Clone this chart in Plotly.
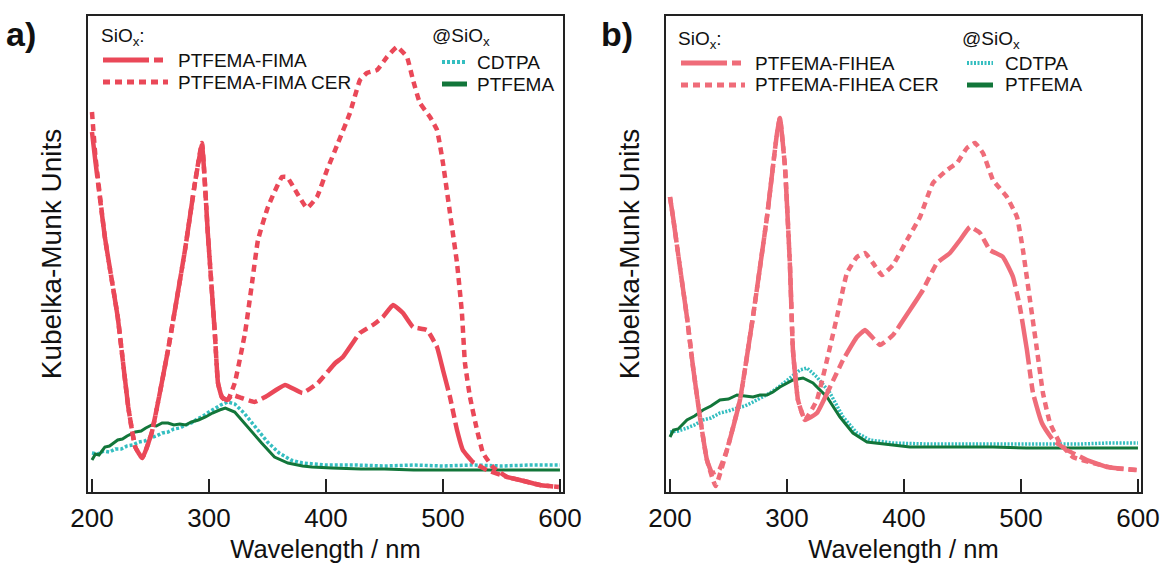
import plotly.graph_objects as go

# ---------------- data (Kubelka-Munk units, arbitrary scale) ----------------
# Panel a) SiOx: PTFEMA-FIMA and its CER counterpart
a_cer_nm = [200, 203, 211, 222, 231, 237, 243, 251, 265, 279.5, 288, 294, 299, 305, 307.7, 311,
            315.4, 322, 330.8, 336.8, 341.9, 350.4, 362.4, 366.7, 375.2, 383.8, 392.3, 400.9,
            410.3, 420.5, 429.1, 435, 443.6, 452.1, 460.7, 469.2, 474.4, 480.3, 488.9, 494.9,
            500, 506, 512, 516.2, 518.8, 523.1, 529.1, 534.2, 542.7, 554.7, 565.8, 582.9, 599]
a_cer_km = [3.80, 3.35, 2.55, 1.75, 0.85, 0.45, 0.34, 0.59, 1.42, 2.42, 3.09, 3.49, 2.59, 1.59, 1.09, 0.95,
            0.90, 1.09, 1.59, 2.09, 2.52, 2.85, 3.15, 3.15, 2.99, 2.84, 2.95, 3.22,
            3.49, 3.79, 4.12, 4.19, 4.22, 4.35, 4.45, 4.35, 4.12, 3.89, 3.75, 3.62,
            3.29, 2.79, 2.29, 1.79, 1.29, 0.95, 0.62, 0.39, 0.25, 0.15, 0.12, 0.07, 0.05]

a_fima_nm = [200, 203, 211, 222, 231, 237, 243, 251, 265, 279.5, 288, 294, 299, 305, 307.7, 311,
             315.4, 320, 328, 339, 348, 365, 380, 393, 408, 414.5, 429, 440, 448.7, 457.3,
             465.8, 474.4, 486.3, 494.9, 500, 506, 512, 517, 525.6, 537.6, 554.7, 565.8, 582.9, 599]
a_fima_km = [3.60, 3.30, 2.55, 1.75, 0.85, 0.45, 0.34, 0.59, 1.42, 2.42, 3.09, 3.47, 2.59, 1.59, 1.09, 0.95,
             0.92, 0.97, 0.94, 0.90, 0.95, 1.07, 0.99, 1.09, 1.29, 1.35, 1.59, 1.67, 1.75, 1.87,
             1.79, 1.65, 1.62, 1.45, 1.22, 0.95, 0.62, 0.42, 0.30, 0.22, 0.15, 0.12, 0.07, 0.05]

# Panel a) @SiOx references
a_cdtpa_nm = [200, 205, 210, 215, 220, 225, 230, 235, 240, 245, 250, 255, 260, 265, 270, 275, 280,
              285, 290, 295, 300, 305, 310, 316, 322, 330, 340, 350, 360, 370, 380, 400, 425,
              450, 475, 500, 525, 550, 575, 600]
a_cdtpa_km = [0.39, 0.38, 0.41, 0.40, 0.43, 0.43, 0.46, 0.47, 0.50, 0.51, 0.54, 0.56, 0.59, 0.60, 0.63,
              0.64, 0.67, 0.69, 0.73, 0.76, 0.80, 0.84, 0.87, 0.90, 0.88, 0.79, 0.64, 0.50, 0.39,
              0.32, 0.29, 0.27, 0.27, 0.26, 0.27, 0.26, 0.27, 0.26, 0.27, 0.27]

a_ptfema_nm = [200, 203, 206, 211, 215, 222, 226, 230, 237, 242, 246, 251, 255, 260, 265, 270, 275,
               280, 285, 291, 297, 303, 309, 314, 322, 333, 345, 356, 367.5, 380, 388, 405, 430,
               450, 475, 500, 525, 550, 575, 600]
a_ptfema_km = [0.32, 0.38, 0.37, 0.45, 0.46, 0.52, 0.53, 0.56, 0.60, 0.61, 0.64, 0.67, 0.66, 0.69, 0.69,
               0.67, 0.68, 0.67, 0.70, 0.72, 0.75, 0.79, 0.82, 0.84, 0.80, 0.65, 0.49, 0.35, 0.29,
               0.26, 0.25, 0.24, 0.23, 0.23, 0.22, 0.22, 0.22, 0.22, 0.22, 0.22]

# Panel b) SiOx: PTFEMA-FIHEA and its CER counterpart
b_cer_nm = [200, 202.6, 208.5, 214.5, 219.7, 225.6, 231.6, 239, 248.7, 259.8, 270.9, 282.9, 291.5,
            294, 298.3, 302.6, 305.1, 309.4, 315.4, 325.6, 334.2, 342.7, 351.3, 359.8, 366.7,
            373.5, 381.2, 390.6, 402.6, 413.7, 424.8, 436.8, 445.3, 453.8, 460.7, 467.5, 476.1,
            488, 496.6, 501.7, 507.7, 513.7, 518.8, 524.8, 533.3, 544.4, 561.5, 578.6, 599]
b_cer_km = [2.95, 2.75, 2.25, 1.75, 1.25, 0.75, 0.32, 0.06, 0.42, 0.92, 1.75, 2.75, 3.59,
            3.74, 3.25, 2.25, 1.42, 0.92, 0.72, 0.92, 1.32, 1.75, 2.19, 2.35, 2.39,
            2.29, 2.17, 2.27, 2.52, 2.75, 3.09, 3.22, 3.29, 3.44, 3.49, 3.39, 3.12,
            2.95, 2.75, 2.42, 1.92, 1.42, 0.99, 0.69, 0.49, 0.35, 0.29, 0.24, 0.22]

b_fihea_nm = [200, 202.6, 208.5, 214.5, 219.7, 225.6, 231.6, 236, 242, 248.7, 259.8, 270.9, 282.9,
              291.5, 294, 298.3, 302.6, 305.1, 309.4, 315.4, 325.6, 336.8, 347.9, 359.8, 366.7,
              373.5, 379.5, 390.6, 405.1, 416.2, 428.2, 439.3, 447.9, 456.4, 465, 473.5, 484.6,
              493.2, 499.1, 505.1, 510.3, 517.9, 527.4, 539.3, 556.4, 573.5, 599]
b_fihea_km = [2.95, 2.75, 2.25, 1.75, 1.25, 0.75, 0.32, 0.19, 0.22, 0.42, 0.92, 1.75, 2.75,
              3.59, 3.74, 3.25, 2.25, 1.42, 0.92, 0.72, 0.79, 1.05, 1.32, 1.55, 1.62,
              1.54, 1.47, 1.57, 1.82, 2.02, 2.29, 2.39, 2.52, 2.65, 2.59, 2.42, 2.35,
              2.15, 1.85, 1.42, 0.99, 0.69, 0.52, 0.42, 0.32, 0.25, 0.22]

# Panel b) @SiOx references
b_cdtpa_nm = [200, 207, 214.5, 221, 228.2, 235, 242.7, 250, 257.3, 264, 271, 278, 285.5, 293, 300,
              306, 311.1, 317.1, 325.6, 336.8, 347.9, 359.8, 370.9, 390.6, 420, 450, 475, 500,
              525, 550, 575, 600]
b_cdtpa_km = [0.60, 0.61, 0.64, 0.67, 0.72, 0.74, 0.79, 0.81, 0.84, 0.86, 0.90, 0.94, 0.99, 1.05, 1.12,
              1.17, 1.22, 1.24, 1.15, 0.99, 0.75, 0.59, 0.52, 0.49, 0.48, 0.48, 0.48, 0.48,
              0.48, 0.48, 0.49, 0.49]

b_ptfema_nm = [200, 203, 207, 214.5, 221, 228.2, 235, 242.7, 250, 257.3, 264, 271, 277, 282.9, 288,
               294, 305.1, 313.7, 322.2, 334.2, 345.3, 356.4, 368.4, 390.6, 405.1, 440, 476, 505,
               533, 565, 600]
b_ptfema_km = [0.55, 0.62, 0.63, 0.72, 0.76, 0.82, 0.86, 0.92, 0.93, 0.97, 0.96, 0.95, 0.97, 0.97, 1.00,
               1.05, 1.12, 1.14, 1.09, 0.95, 0.75, 0.59, 0.50, 0.47, 0.45, 0.45, 0.45, 0.44,
               0.44, 0.44, 0.44]

# ---------------- styling ----------------
W, H = 1160, 567
FONT = "Liberation Sans, Arial, sans-serif"
RED_A = "rgb(234,72,88)"
RED_B = "rgb(239,108,121)"
CYAN = "rgb(52,190,192)"
GREEN = "rgb(18,118,58)"

DASH_LONG_SHORT = "46px,5px,9px,5px,9px,5px"
DASH_SQUARE = "7px,5px"
DASH_CYAN_A = "3px,2px"
DASH_CYAN_B = "2px,1.5px"


def px_x(p):
    return p / W


def px_y(p):
    return 1 - p / H


fig = go.Figure()

panels = [
    dict(ax="x", ay="y", red=RED_A, cyan_dash=DASH_CYAN_A,
         series=[(a_cdtpa_nm, a_cdtpa_km, "CDTPA"), (a_ptfema_nm, a_ptfema_km, "PTFEMA"),
                 (a_cer_nm, a_cer_km, "PTFEMA-FIMA CER"), (a_fima_nm, a_fima_km, "PTFEMA-FIMA")]),
    dict(ax="x2", ay="y2", red=RED_B, cyan_dash=DASH_CYAN_B,
         series=[(b_cdtpa_nm, b_cdtpa_km, "CDTPA"), (b_ptfema_nm, b_ptfema_km, "PTFEMA"),
                 (b_cer_nm, b_cer_km, "PTFEMA-FIHEA CER"), (b_fihea_nm, b_fihea_km, "PTFEMA-FIHEA")]),
]

for p in panels:
    for nm, km, name in p["series"]:
        if name == "CDTPA":
            line = dict(color=CYAN, width=3.5, dash=p["cyan_dash"])
        elif name == "PTFEMA":
            line = dict(color=GREEN, width=3)
        elif name.endswith("CER"):
            line = dict(color=p["red"], width=4.5, dash=DASH_SQUARE, shape="spline", smoothing=0.35)
        else:
            line = dict(color=p["red"], width=4.5, dash=DASH_LONG_SHORT, shape="spline", smoothing=0.35)
        fig.add_trace(go.Scatter(x=nm, y=km, mode="lines", name=name, line=line,
                                 xaxis=p["ax"], yaxis=p["ay"], showlegend=False,
                                 hoverinfo="skip"))

# ---------------- axes ----------------
x_range = [196.6, 602.6]
y_range = [0, 4.76]
y_dom = [1 - 492 / H, 1 - 16 / H]
x_doms = [[px_x(88), px_x(563)], [px_x(666), px_x(1141)]]

xaxis_common = dict(range=x_range, tickvals=[200, 300, 400, 500, 600], automargin=False,
                    ticks="inside", ticklen=13, tickwidth=1.5, tickcolor="#222",
                    showline=True, linecolor="#222", linewidth=1.5, mirror=True,
                    showgrid=False, zeroline=False, ticklabelstandoff=2,
                    tickfont=dict(family=FONT, size=26, color="#111"),
                    title=dict(text="Wavelength / nm", font=dict(family=FONT, size=25.5, color="#111"),
                               standoff=8))
yaxis_common = dict(range=y_range, domain=y_dom, showticklabels=False, ticks="", automargin=False,
                    showline=True, linecolor="#222", linewidth=1.5, mirror=True,
                    showgrid=False, zeroline=False,
                    title=dict(text="Kubelka-Munk Units", font=dict(family=FONT, size=28, color="#111"),
                               standoff=16))

fig.update_layout(
    width=W, height=H,
    margin=dict(l=0, r=0, t=0, b=0, autoexpand=False),
    paper_bgcolor="white", plot_bgcolor="white",
    xaxis=dict(domain=x_doms[0], anchor="y", **xaxis_common),
    yaxis=dict(anchor="x", **yaxis_common),
    xaxis2=dict(domain=x_doms[1], anchor="y2", **xaxis_common),
    yaxis2=dict(anchor="x2", **yaxis_common),
    font=dict(family=FONT, color="#111"),
)

# ---------------- legend blocks and panel letters ----------------
annotations = []
shapes = []


def text(x, y, s, size=19, bold=False):
    annotations.append(dict(x=px_x(x), y=px_y(y), xref="paper", yref="paper",
                            text=f"<b>{s}</b>" if bold else s, showarrow=False,
                            xanchor="left", yanchor="middle",
                            font=dict(family=FONT, size=size, color="#111")))


def key(x0, x1, y, color, width, dash="solid"):
    shapes.append(dict(type="line", xref="paper", yref="paper",
                       x0=px_x(x0), x1=px_x(x1), y0=px_y(y), y1=px_y(y),
                       line=dict(color=color, width=width, dash=dash)))


legend_blocks = [
    dict(red=RED_A, cyan_dash=DASH_CYAN_A, left=99, right=430, ytop=37, rows=(60, 82), rows_r=(62, 84),
         names=("PTFEMA-FIMA", "PTFEMA-FIMA CER"), kx=(103, 168), tx=176, ckx=(442, 467), ctx=475),
    dict(red=RED_B, cyan_dash=DASH_CYAN_B, left=676, right=960, ytop=40, rows=(63, 85), rows_r=(63, 85),
         names=("PTFEMA-FIHEA", "PTFEMA-FIHEA CER"), kx=(681, 745), tx=753, ckx=(967, 993), ctx=1003),
]

for b in legend_blocks:
    text(b["left"], b["ytop"], "SiO<sub>x</sub>:")
    text(b["right"], b["ytop"], "@SiO<sub>x</sub>")
    key(b["kx"][0], b["kx"][1], b["rows"][0], b["red"], 5, DASH_LONG_SHORT)
    key(b["kx"][0], b["kx"][1], b["rows"][1], b["red"], 5, DASH_SQUARE)
    text(b["tx"], b["rows"][0], b["names"][0])
    text(b["tx"], b["rows"][1], b["names"][1])
    key(b["ckx"][0], b["ckx"][1], b["rows_r"][0], CYAN, 4, b["cyan_dash"])
    key(b["ckx"][0], b["ckx"][1], b["rows_r"][1], GREEN, 5)
    text(b["ctx"], b["rows_r"][0], "CDTPA")
    text(b["ctx"], b["rows_r"][1], "PTFEMA")

text(4, 34, "a)", size=34, bold=True)
text(599, 34, "b)", size=34, bold=True)

fig.update_layout(annotations=annotations, shapes=shapes)

fig.write_html("out.html")
